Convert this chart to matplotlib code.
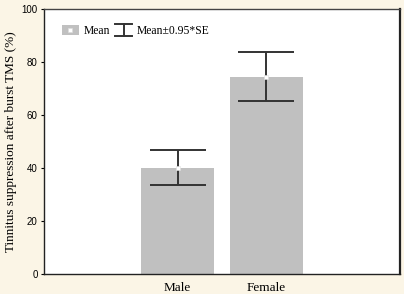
import matplotlib
matplotlib.use('Agg')
import matplotlib.pyplot as plt
from matplotlib.patches import Patch
from matplotlib.lines import Line2D
from matplotlib.legend_handler import HandlerBase

# data
groups = ['Male', 'Female']
means = [40.2, 74.6]
errs = [6.6, 9.3]          # Mean +/- 0.95*SE
yticks = [0, 20, 40, 60, 80, 100]

BG = '#FBF5E6'
BAR = '#C0C0C0'
LINE = '#333333'


class HandlerIBar(HandlerBase):
    """small I-shaped whisker for the legend"""
    def create_artists(self, legend, orig_handle, xdescent, ydescent,
                       width, height, fontsize, trans):
        cx = width / 2 - xdescent
        y0, y1 = -ydescent - 0.15 * height, height - ydescent + 0.15 * height
        kw = dict(color=LINE, lw=1.4, transform=trans)
        return [Line2D([cx, cx], [y0, y1], **kw),
                Line2D([0, width], [y0, y0], **kw),
                Line2D([0, width], [y1, y1], **kw)]


plt.rcParams['font.family'] = ['Liberation Serif', 'DejaVu Serif']

fig = plt.figure(figsize=(4.04, 2.94), dpi=100, facecolor=BG)
ax = fig.add_axes([0.109, 0.068, 0.881, 0.900])
ax.set_facecolor('white')

x = list(range(len(groups)))
ax.bar(x, means, width=0.81, color=BAR, zorder=1)
ax.errorbar(x, means, yerr=errs, fmt='none', ecolor=LINE, elinewidth=1.4,
            capsize=20, capthick=1.4, zorder=2)
ax.plot(x, means, ls='none', marker='s', ms=2.5, mfc='white', mec='#DDDDDD',
        mew=0.4, zorder=3)

ax.set_xlim(-1.5, 2.5)
ax.set_ylim(0, 100)
ax.set_xticks(x)
ax.set_xticklabels(groups, fontsize=9.5)
ax.tick_params(axis='x', length=0, pad=6)
ax.set_yticks(yticks)
ax.set_yticklabels([str(t) for t in yticks], fontsize=7, family='Liberation Sans')
ax.tick_params(axis='y', length=2.5, width=0.8, direction='out', pad=2)
ax.set_ylabel('Tinnitus suppression after burst TMS (%)', fontsize=9.5, labelpad=3)

for s in ax.spines.values():
    s.set_linewidth(1.0)
    s.set_color('#222222')
ax.spines['right'].set_linewidth(1.6)
ax.spines['top'].set_color('#444444')

mean_handle = (Patch(facecolor=BAR, edgecolor='none'),
               Line2D([], [], ls='none', marker='s', ms=2.5, mfc='white',
                      mec='#DDDDDD', mew=0.4))
err_handle = Line2D([], [], color=LINE)
ax.legend([mean_handle, err_handle], ['Mean', 'Mean\u00b10.95*SE'],
          handler_map={err_handle: HandlerIBar()},
          loc='upper left', bbox_to_anchor=(0.02, 0.98), ncol=2,
          frameon=False, fontsize=8.4, handlelength=1.5, handleheight=0.9,
          handletextpad=0.35, columnspacing=0.45)

fig.savefig('out.png', dpi=100, facecolor=BG)
